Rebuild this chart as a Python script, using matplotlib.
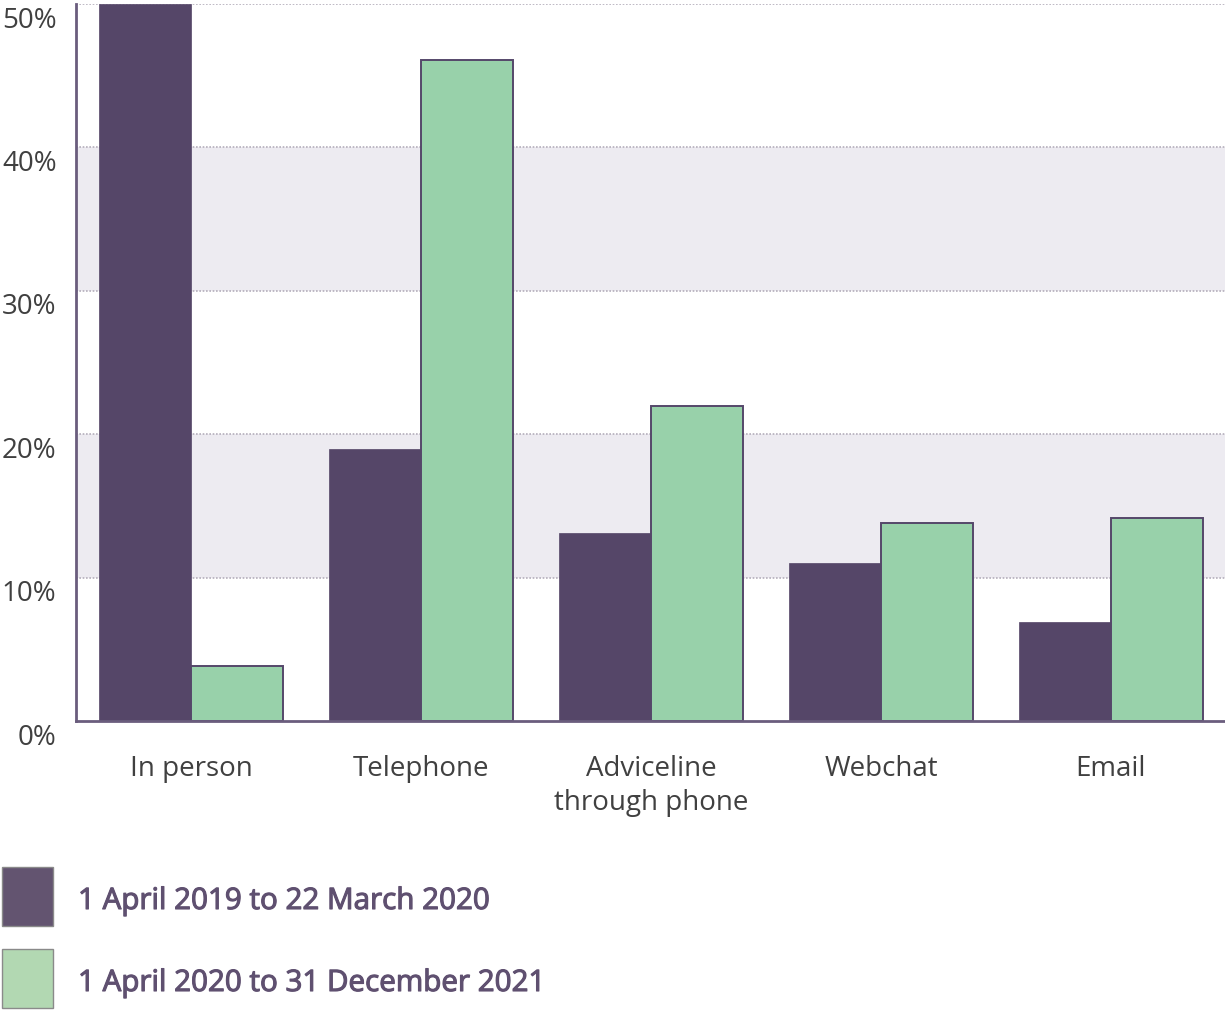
import numpy as np
import matplotlib
matplotlib.use('Agg')
import matplotlib.pyplot as plt
import matplotlib.transforms as mtransforms
import matplotlib.patheffects as pe
from matplotlib.patches import Rectangle

plt.rcParams['font.family'] = ['Open Sans', 'DejaVu Sans']

## Share of advice contacts by channel, before and after lockdown
channels = ['In person', 'Telephone', 'Adviceline\nthrough phone', 'Webchat', 'Email']
before = [50.0, 19.0, 13.1, 11.0, 6.9]
after = [3.85, 46.1, 22.0, 13.8, 14.2]
series_labels = ['1 April 2019 to 22 March 2020', '1 April 2020 to 31 December 2021']
y_ticks = [0, 10, 20, 30, 40, 50]

purple = '#554668'
green = '#98d1aa'
edge = '#55476a'
text_grey = '#404040'
legend_text = '#5f5070'

fig = plt.figure(figsize=(12.25, 10.12), dpi=100)
ax = fig.add_axes([76 / 1225, 1 - 722.3 / 1012, 1150 / 1225, 717.3 / 1012])

# alternate shaded bands behind the bars
ax.axhspan(10, 20, color='#edebf1', zorder=0, lw=0)
ax.axhspan(30, 40, color='#edebf1', zorder=0, lw=0)
for t in y_ticks[1:]:
  ax.axhline(t, color='#b4aebb', lw=1.2, ls=(0, (1, 1)), zorder=1)

x = np.arange(len(channels))
w = 0.4
ax.bar(x - w / 2, before, w, color=purple, edgecolor=purple, lw=0.5, zorder=2)
ax.bar(x + w / 2, after, w, color=green, edgecolor=edge, lw=1.4, zorder=2)

ax.set_xlim(-0.5, 4.5)
ax.set_ylim(0, 50)
ax.set_xticks(x)
ax.set_xticklabels(channels, fontsize=20, color=text_grey, linespacing=1.3)
ax.set_yticks(y_ticks)
ax.set_yticklabels(['{0}%'.format(t) for t in y_ticks], fontsize=20, color=text_grey)
ax.tick_params(axis='both', length=0)
ax.tick_params(axis='x', pad=23.5)
ax.tick_params(axis='y', pad=14)

# y labels sit just below their gridline
shift = mtransforms.ScaledTranslation(0, -12 / 100, fig.dpi_scale_trans)
for lbl in ax.get_yticklabels():
  lbl.set_transform(lbl.get_transform() + shift)

for s in ['top', 'right']:
  ax.spines[s].set_visible(False)
for s in ['left', 'bottom']:
  ax.spines[s].set_color('#6a5d7d')
  ax.spines[s].set_linewidth(2)
  ax.spines[s].set_zorder(3)

# legend drawn by hand under the plot, thickened text for a semibold look
leg_colors = ['#635470', '#b2d8b2']
leg_y = [868, 950]
for c, top, lab in zip(leg_colors, leg_y, series_labels):
  fig.patches.append(Rectangle((2 / 1225, 1 - (top + 59) / 1012), 51 / 1225, 59 / 1012,
                               transform=fig.transFigure, facecolor=c,
                               edgecolor='#8a8a8a', lw=1))
  fig.text(78 / 1225, 1 - (top + 34.5) / 1012, lab, fontsize=21.3, color=legend_text,
           va='center', ha='left',
           path_effects=[pe.withStroke(linewidth=0.8, foreground=legend_text)])

fig.savefig('out.png', dpi=100)
